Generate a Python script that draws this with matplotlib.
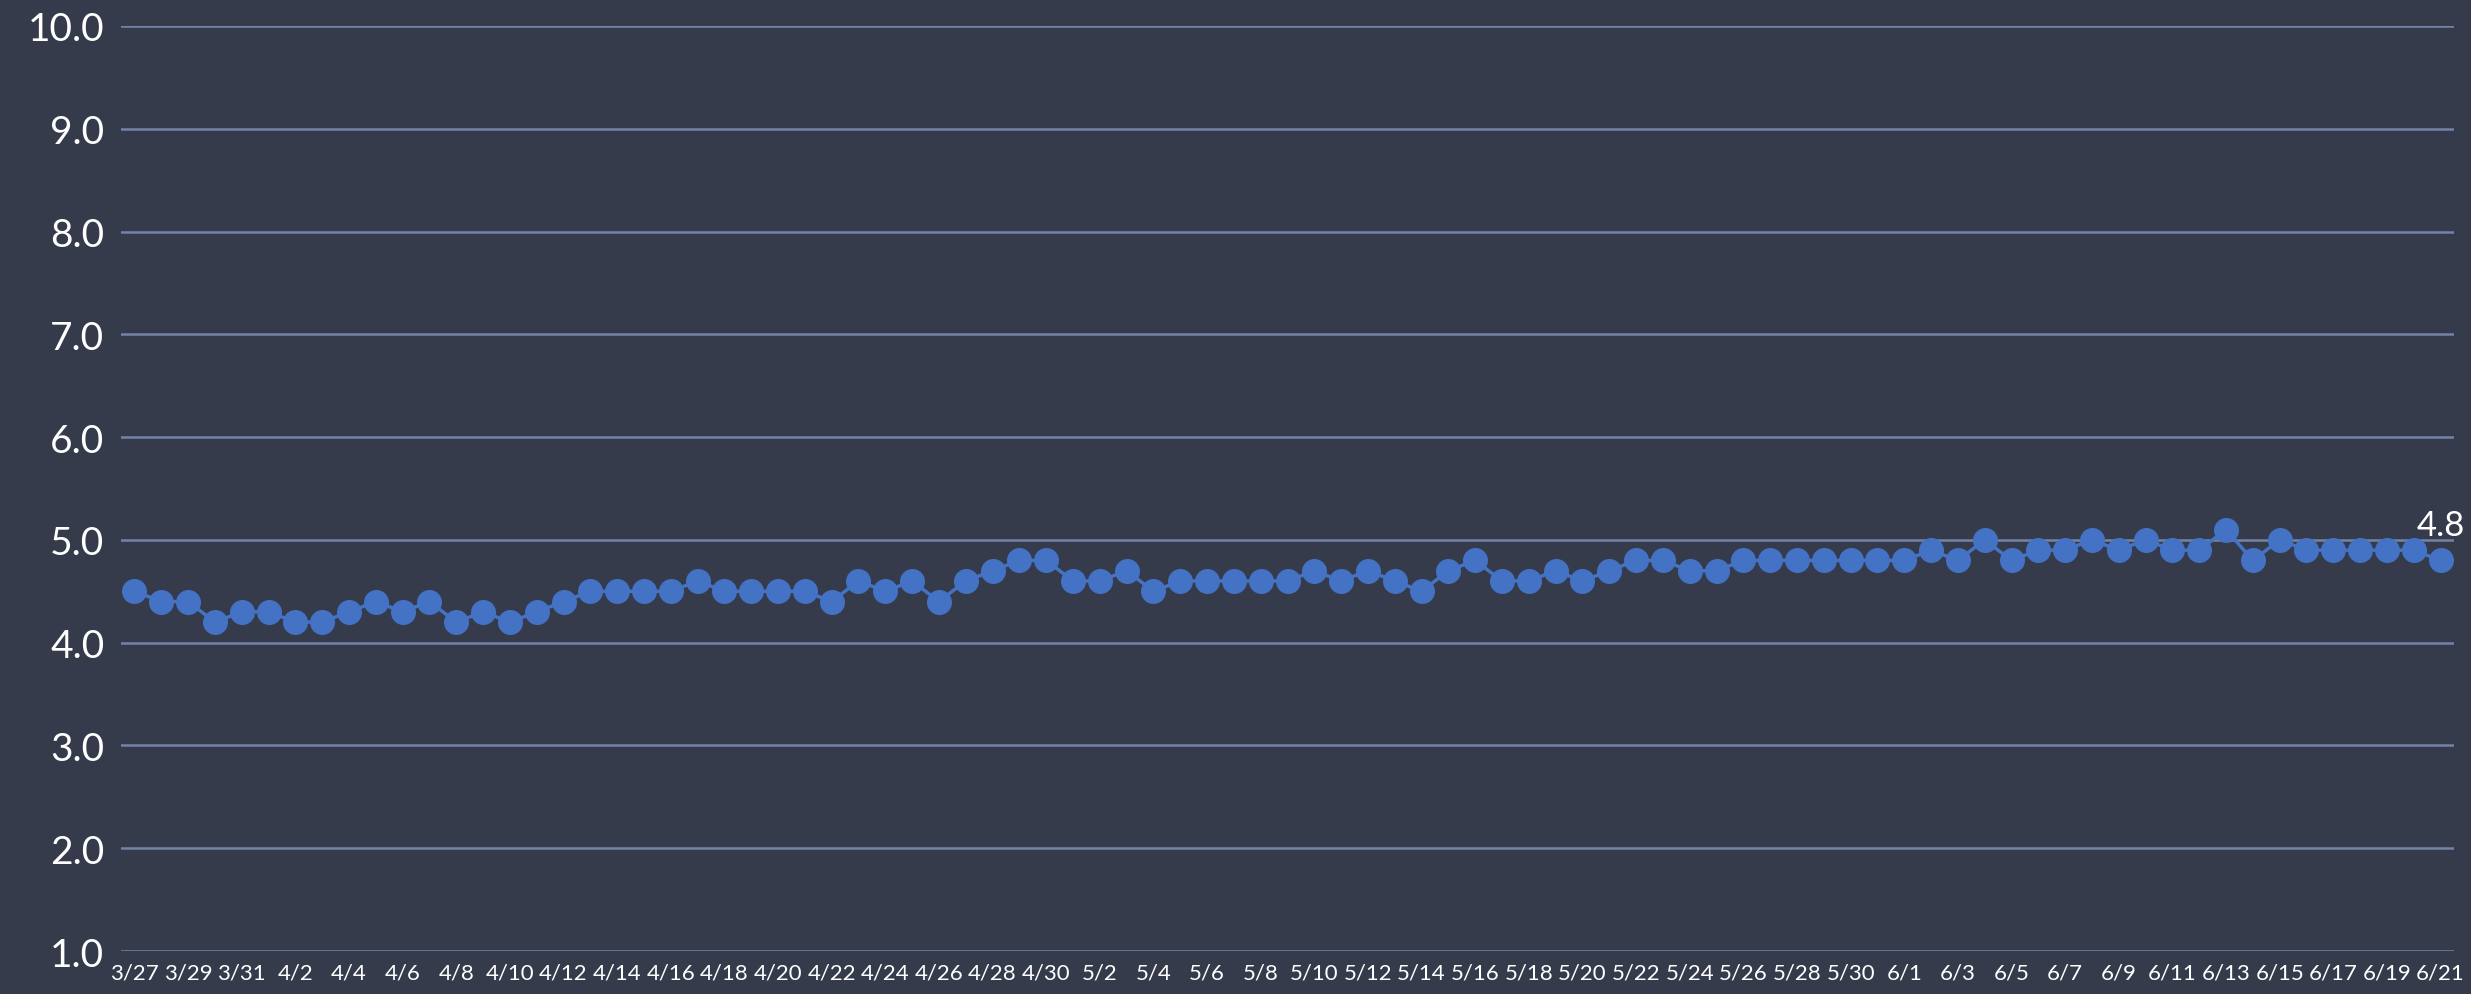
import matplotlib
matplotlib.use("Agg")
import matplotlib.pyplot as plt
import numpy as np

# daily dates, 3/27 .. 6/21
dates = (["3/%d" % d for d in range(27, 32)]
         + ["4/%d" % d for d in range(1, 31)]
         + ["5/%d" % d for d in range(1, 32)]
         + ["6/%d" % d for d in range(1, 22)])

values = [4.5, 4.4, 4.4, 4.2, 4.3,
          4.3, 4.2, 4.2, 4.3, 4.4, 4.3, 4.4, 4.2, 4.3, 4.2,
          4.3, 4.4, 4.5, 4.5, 4.5, 4.5, 4.6, 4.5, 4.5, 4.5,
          4.5, 4.4, 4.6, 4.5, 4.6, 4.4, 4.6, 4.7, 4.8, 4.8,
          4.6, 4.6, 4.7, 4.5, 4.6, 4.6, 4.6, 4.6, 4.6, 4.7,
          4.6, 4.7, 4.6, 4.5, 4.7, 4.8, 4.6, 4.6, 4.7, 4.6,
          4.7, 4.8, 4.8, 4.7, 4.7, 4.8, 4.8, 4.8, 4.8, 4.8,
          4.8,
          4.8, 4.9, 4.8, 5.0, 4.8, 4.9, 4.9, 5.0, 4.9, 5.0,
          4.9, 4.9, 5.1, 4.8, 5.0, 4.9, 4.9, 4.9, 4.9, 4.9,
          4.8]

yticks = [1.0, 2.0, 3.0, 4.0, 5.0, 6.0, 7.0, 8.0, 9.0, 10.0]

bg = "#353b4b"
grid_col = "#7284a8"
blue = "#4472c4"

fig = plt.figure(figsize=(24.71, 9.95), dpi=100, facecolor=bg)
ax = fig.add_axes([0.049, 0.0432, 0.9441, 0.9297], facecolor=bg)

x = np.arange(len(dates))
ax.plot(x, values, color=blue, lw=2.5, marker="o", ms=17, mec=blue, mfc=blue,
        zorder=3)

ax.set_xlim(-0.5, len(dates) - 0.5)
ax.set_ylim(1.0, 10.0)
for t in yticks:
    ax.axhline(t, color=grid_col, lw=1.8, zorder=1)

ax.set_yticks(yticks)
ax.set_yticklabels(["%.1f" % t for t in yticks], fontfamily="Lato",
                   fontsize=28, color="white")
ax.set_xticks(x[::2])
ax.set_xticklabels(dates[::2], fontfamily="Lato", fontsize=16, color="white")
ax.tick_params(axis="both", length=0)
ax.tick_params(axis="y", pad=12)
ax.tick_params(axis="x", pad=8)
for s in ax.spines.values():
    s.set_visible(False)

# label on the last point
ax.annotate("%.1f" % values[-1], (x[-1], values[-1]), xytext=(0, 14),
            textcoords="offset points", ha="center", va="bottom",
            fontfamily="Lato", fontsize=25, color="white")

fig.savefig("out.png", dpi=100, facecolor=bg)
